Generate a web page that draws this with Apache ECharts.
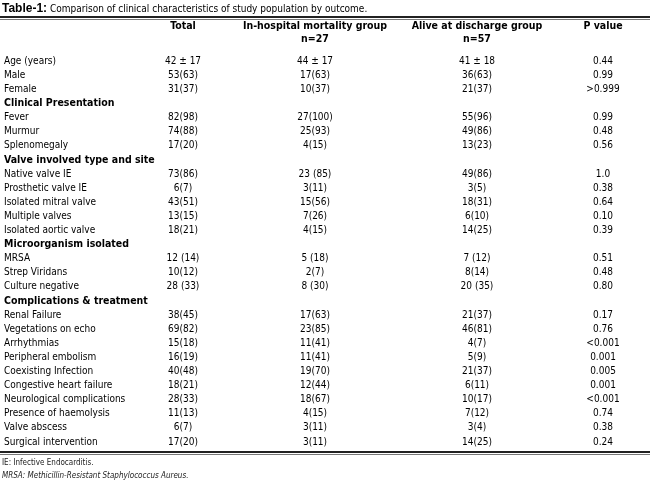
<!DOCTYPE html>
<html><head><meta charset="utf-8">
<script src="https://cdn.jsdelivr.net/npm/echarts@6/dist/echarts.min.js"></script>
<style>html,body{margin:0;padding:0;background:#fff}#c{width:650px;height:486px}</style>
</head><body><div id="c"></div>
<script>
const rowLabels = ["Age (years)","Male","Female","Clinical Presentation","Fever","Murmur","Splenomegaly","Valve involved type and site","Native valve IE","Prosthetic valve IE","Isolated mitral valve","Multiple valves","Isolated aortic valve","Microorganism isolated","MRSA","Strep Viridans","Culture negative","Complications & treatment","Renal Failure","Vegetations on echo","Arrhythmias","Peripheral embolism","Coexisting Infection","Congestive heart failure","Neurological complications","Presence of haemolysis","Valve abscess","Surgical intervention"];
const sectionRows = ["Clinical Presentation","Valve involved type and site","Microorganism isolated","Complications & treatment"];
const totalCol = ["42 ± 17","53(63)","31(37)","","82(98)","74(88)","17(20)","","73(86)","6(7)","43(51)","13(15)","18(21)","","12 (14)","10(12)","28 (33)","","38(45)","69(82)","15(18)","16(19)","40(48)","18(21)","28(33)","11(13)","6(7)","17(20)"];
const mortalityCol = ["44 ± 17","17(63)","10(37)","","27(100)","25(93)","4(15)","","23 (85)","3(11)","15(56)","7(26)","4(15)","","5 (18)","2(7)","8 (30)","","17(63)","23(85)","11(41)","11(41)","19(70)","12(44)","18(67)","4(15)","3(11)","3(11)"];
const aliveCol = ["41 ± 18","36(63)","21(37)","","55(96)","49(86)","13(23)","","49(86)","3(5)","18(31)","6(10)","14(25)","","7 (12)","8(14)","20 (35)","","21(37)","46(81)","4(7)","5(9)","21(37)","6(11)","10(17)","7(12)","3(4)","14(25)"];
const pCol = ["0.44","0.99",">0.999","","0.99","0.48","0.56","","1.0","0.38","0.64","0.10","0.39","","0.51","0.48","0.80","","0.17","0.76","<0.001","0.001","0.005","0.001","<0.001","0.74","0.38","0.24"];
const headers = ["Total","In-hospital mortality group\nn=27","Alive at discharge group\nn=57","P value"];
const titleBold = "Table-1:";
const titleText = " Comparison of clinical characteristics of study population by outcome.";
const footnotes = ["IE: Infective Endocarditis.","MRSA: Methicillin-Resistant Staphylococcus Aureus."];

const FONT = "'Liberation Sans Narrow','DejaVu Sans Condensed','Noto Sans',sans-serif";
const colX = [183, 315, 477, 603];
const cols = [totalCol, mortalityCol, aliveCol, pCol];
const chart = echarts.init(document.getElementById('c'));
const series = [{
  type:'scatter', symbolSize:0, silent:true, itemStyle:{opacity:1},
  data: rowLabels.map((r,i)=>[4,r]),
  label:{show:true, position:'inside', align:'left', fontFamily:FONT, fontSize:10, color:'#000',
    formatter:p=>sectionRows.includes(p.value[1])?'{b|'+p.value[1]+'}':p.value[1],
    rich:{b:{fontWeight:'bold',fontSize:10.5,fontFamily:FONT,color:'#000'}}}
}];
cols.forEach((c,k)=>series.push({
  type:'scatter', symbolSize:0, silent:true, itemStyle:{opacity:1},
  data: c.map((v,i)=>({value:[colX[k],rowLabels[i]], t:v})),
  label:{show:true, position:'inside', align:'center', fontFamily:FONT, fontSize:10, color:'#000',
    formatter:p=>p.data.t}
}));
chart.setOption({
  animation:false,
  grid:{left:0,right:0,top:54,bottom:37},
  xAxis:{type:'value',min:0,max:650,show:false},
  yAxis:{type:'category',data:rowLabels,inverse:true,show:false},
  series,
  graphic:[
    {type:'text',left:2,top:3,style:{text:'{b|'+titleBold+'}'+titleText,font:'10px '+FONT,fill:'#000',rich:{b:{fontWeight:'bold',font:'bold 10px '+FONT}}}},
    {type:'rect',shape:{x:0,y:16,width:650,height:2},style:{fill:'#222'}},
    {type:'line',shape:{x1:0,y1:19.5,x2:650,y2:19.5},style:{stroke:'#555',lineWidth:0.8}},
    {type:'rect',shape:{x:0,y:451,width:650,height:2},style:{fill:'#222'}},
    {type:'line',shape:{x1:0,y1:454.5,x2:650,y2:454.5},style:{stroke:'#555',lineWidth:0.8}},
    ...headers.map((h,k)=>({type:'text',x:colX[k],y:20,style:{text:h,font:'bold 10.5px '+FONT,fill:'#000',align:'center',lineHeight:13}})),
    {type:'text',left:2,top:459,style:{text:footnotes[0],font:'8px '+FONT,fill:'#222'}},
    {type:'text',left:2,top:472,style:{text:footnotes[1],font:'italic 8px '+FONT,fill:'#222'}}
  ]
});
</script></body></html>
